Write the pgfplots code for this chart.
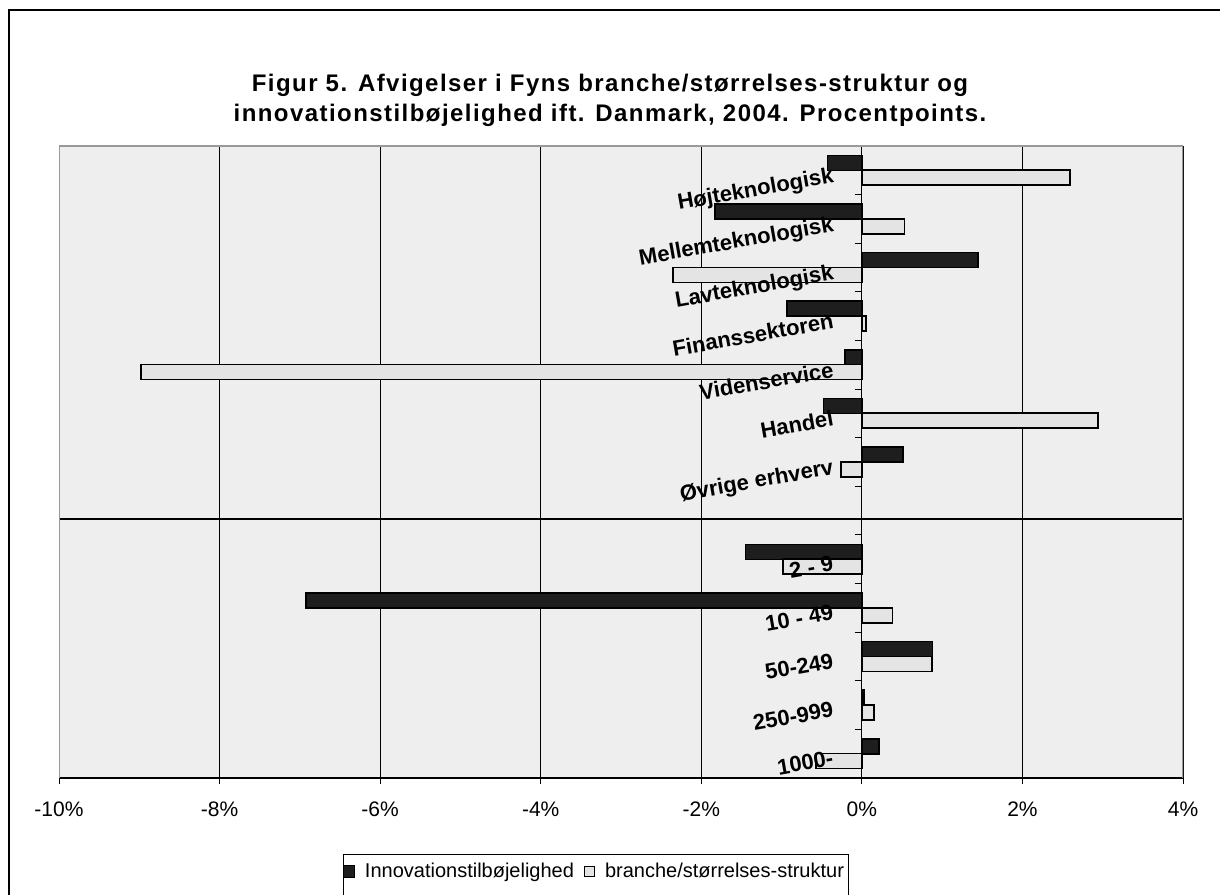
\documentclass[border=0pt]{standalone}
\usepackage{pgfplots}
\usepackage{pgfplotstable}
\pgfplotsset{compat=1.18}
\usepackage{fontspec}
\setmainfont{Liberation Sans}
\definecolor{bg}{HTML}{EEEEEE}
\definecolor{darkbar}{HTML}{1E1E1E}
\definecolor{lightbar}{HTML}{E4E4E4}
\definecolor{bordergray}{HTML}{999999}

\pgfplotsset{
  layers/mylayers/.define layer set={
    axis background,axis grid,axis ticks,axis lines,pre main,main,axis tick labels,axis descriptions,axis foreground
  }{
    axis background@ style={/pgfplots/on layer=axis background},
    grid style={/pgfplots/on layer=axis grid},
    tick style={/pgfplots/on layer=axis ticks},
    axis line style={/pgfplots/on layer=axis lines},
    tick label style={/pgfplots/on layer=axis tick labels},
    label style={/pgfplots/on layer=axis descriptions},
    legend style={/pgfplots/on layer=axis descriptions},
    title style={/pgfplots/on layer=axis descriptions},
  },
}

\pgfplotstableread{
y inno struk
12 -0.43 2.59
11 -1.83 0.53
10 1.45 -2.35
9 -0.93 0.05
8 -0.21 -8.98
7 -0.48 2.94
6 0.51 -0.26
4 -1.45 -0.98
3 -6.92 0.38
2 0.88 0.87
1 0.03 0.15
0 0.21 -0.57
}\datatable

\begin{document}
\begin{tikzpicture}
\draw[line width=0.7pt] (4.5pt,-5pt) -- (4.5pt,442pt) -- (620pt,442pt);
\node[font=\bfseries\fontsize{12pt}{15pt}\selectfont\addfontfeatures{LetterSpace=6}, align=center] at (305pt,397pt)
  {Figur 5. Afvigelser i Fyns branche/størrelses-struktur og\\innovationstilbøjelighed ift. Danmark, 2004. Procentpoints.};
\begin{axis}[
  set layers=mylayers,
  at={(29.5pt,58pt)}, anchor=south west,
  scale only axis, width=562pt, height=316pt,
  xmin=-10, xmax=4, ymin=-0.5, ymax=12.5,
  axis x line=bottom, axis y line=middle,
  axis line style={-},
  x axis line style={black, line width=0.7pt},
  y axis line style={black, line width=0.6pt},
  hide obscured x ticks=false, hide obscured y ticks=false,
  axis background/.style={fill=bg},
  xtick={-10,-8,-6,-4,-2,0,2,4},
  xticklabels={-10\%,-8\%,-6\%,-4\%,-2\%,0\%,2\%,4\%},
  xtick align=outside, ytick align=outside,
  major tick length=3pt, minor tick length=3.5pt,
  xtick style={black, line width=0.5pt},
  xmajorgrids, grid style={black, line width=0.5pt},
  xticklabel style={font=\fontsize{10.5pt}{12pt}\selectfont, yshift=-5.5pt},
  ytick={0,1,2,3,4,6,7,8,9,10,11,12},
  yticklabels={1000-,250-999,50-249,10 - 49,2 - 9,Øvrige erhverv,Handel,Videnservice,Finanssektoren,Lavteknologisk,Mellemteknologisk,Højteknologisk},
  minor ytick={-0.5,0.5,...,12.5},
  major y tick style={draw=none},
  minor y tick style={black, line width=0.5pt},
  yticklabel style={font=\bfseries\fontsize{11pt}{12pt}\selectfont, inner sep=0pt, anchor=north east, xshift=-12pt, yshift=2pt, rotate=10},
  legend style={at={(0.4773,-0.1487)}, anchor=center, draw=none, fill=none,
    legend columns=2, font=\fontsize{10pt}{12pt}\selectfont,
    /tikz/every odd column/.append style={column sep=3pt},
    /tikz/every even column/.append style={column sep=3pt}},
]
\addplot[xbar, bar width=7.5pt, bar shift=3.7pt, fill=darkbar, draw=black, line width=0.8pt,
  legend image code/.code={\draw[fill=darkbar,draw=black,line width=0.5pt] (0pt,-3pt) rectangle (5.5pt,3pt);}]
  table[x=inno, y=y] {\datatable};
\addlegendentry{Innovationstilbøjelighed}
\addplot[xbar, bar width=7.5pt, bar shift=-3.7pt, fill=lightbar, draw=black, line width=0.8pt,
  legend image code/.code={\draw[fill=lightbar,draw=black,line width=0.5pt] (0pt,-2.5pt) rectangle (5pt,2.5pt);}]
  table[x=struk, y=y] {\datatable};
\addlegendentry{branche/størrelses-struktur}
\draw[black, line width=0.7pt] (axis cs:-10,4.83) -- (axis cs:4,4.83);
\draw[bordergray, line width=0.8pt] (rel axis cs:0,0) -- (rel axis cs:0,1) -- (rel axis cs:1,1) -- (rel axis cs:1,0);
\end{axis}
\draw[line width=0.5pt] (171.5pt,-2pt) |- (424pt,20pt) -- (424pt,-2pt);
\pgfresetboundingbox
\path[use as bounding box] (0,0) rectangle (610pt,447pt);
\end{tikzpicture}
\end{document}
